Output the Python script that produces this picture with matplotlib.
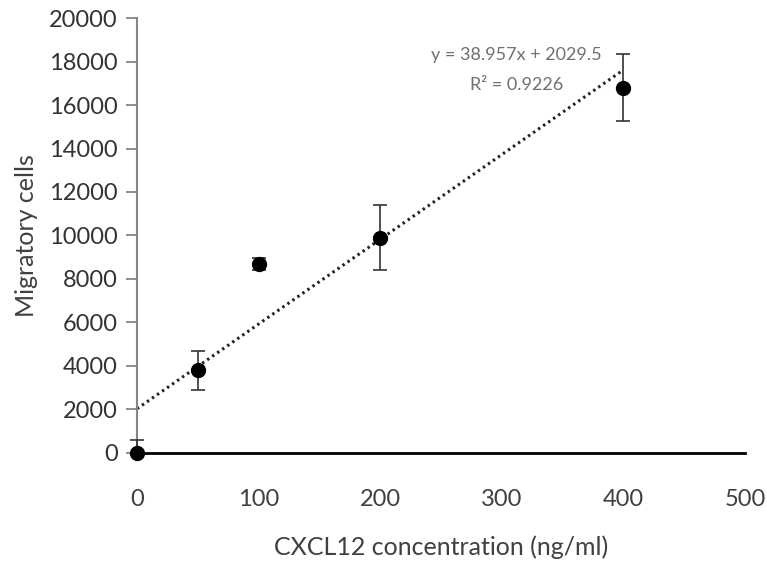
import matplotlib.pyplot as plt

conc = [0, 50, 100, 200, 400]
cells = [0, 3800, 8700, 9900, 16800]
err_low = [0, 900, 280, 1500, 1550]
err_high = [600, 900, 280, 1500, 1550]

slope = 38.957
intercept = 2029.5
r2 = 0.9226

plt.rcParams['font.family'] = ['Lato', 'DejaVu Sans']

fig = plt.figure(figsize=(7.67, 5.64), dpi=100)
ax = fig.add_axes([0.1786, 0.197, 0.7925, 0.771])

# trend line
tx = [0, 400]
ty = [slope * v + intercept for v in tx]
ax.plot(tx, ty, color="#222222", lw=2.2, ls=(0, (0.8, 1.2)), zorder=2)

ax.errorbar(conc, cells, yerr=[err_low, err_high], fmt="o", color="black", ms=10,
            ecolor="#333333", elinewidth=1.2, capsize=5, capthick=1.2,
            clip_on=False, zorder=3)

ax.set_xlim(0, 500)
ax.set_ylim(0, 20000)
ax.set_xticks(range(0, 501, 100))
ax.set_yticks(range(0, 20001, 2000))

for s in ["top", "right"]:
    ax.spines[s].set_visible(False)
ax.spines["left"].set_color("#868686")
ax.spines["left"].set_linewidth(1.5)
ax.spines["bottom"].set_color("black")
ax.spines["bottom"].set_linewidth(2)

ax.tick_params(axis="y", length=8, width=1.3, color="#868686",
               labelsize=17, labelcolor="#333333", pad=6)
ax.tick_params(axis="x", length=0, labelsize=17, labelcolor="#404040", pad=26)

ax.set_xlabel("CXCL12 concentration (ng/ml)", fontsize=18, color="#404040", labelpad=18)
ax.set_ylabel("Migratory cells", fontsize=18, color="#404040", labelpad=8)

ax.text(312, 18300, "y = 38.957x + 2029.5", fontsize=13, color="#707070",
        ha="center", va="center")
ax.text(312, 16920, "R\u00b2 = 0.9226", fontsize=13, color="#707070",
        ha="center", va="center")

fig.savefig("out.png", dpi=100)
